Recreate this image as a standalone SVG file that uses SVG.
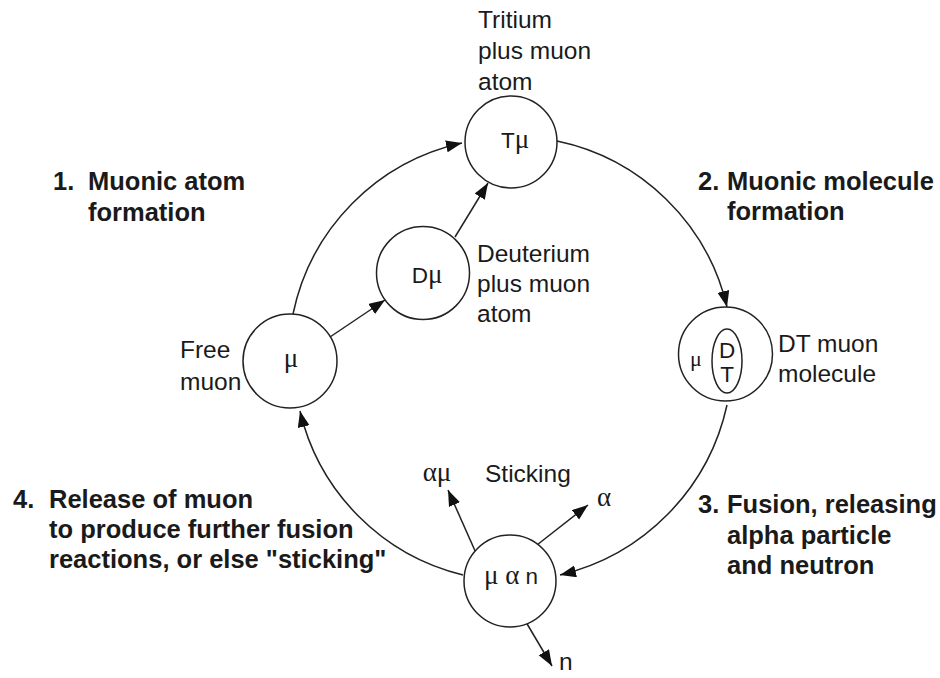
<svg xmlns="http://www.w3.org/2000/svg" width="940" height="678" viewBox="0 0 940 678">
<style>
text{font-family:"Liberation Sans",Arial,sans-serif;fill:#1a1a1a}
.lbl{font-size:24.5px}
.bold{font-size:25.5px;font-weight:bold}
.in{font-size:22.5px}
.gk{font-family:"Liberation Serif","Times New Roman",serif;font-size:27px}
.gks{font-family:"Liberation Serif","Times New Roman",serif;font-size:22px}
.node{fill:#fff;stroke:#222;stroke-width:1.5}
.con{fill:none;stroke:#222;stroke-width:1.5}
</style>
<defs>
<marker id="ah" markerUnits="userSpaceOnUse" markerWidth="17" markerHeight="13" refX="16" refY="6" orient="auto" viewBox="0 0 17 13">
<path d="M0,0 L16,6 L0,12 z" fill="#111"/>
</marker>
</defs>
<rect width="940" height="678" fill="#fff"/>
<g id="connectors">
<path class="con" d="M293,314 A221,221 0 0 1 462,143" marker-end="url(#ah)"/>
<path class="con" d="M557,141 A221,221 0 0 1 727,307" marker-end="url(#ah)"/>
<path class="con" d="M727,405 A224,224 0 0 1 560,575" marker-end="url(#ah)"/>
<path class="con" d="M463,575 A221,221 0 0 1 300,411" marker-end="url(#ah)"/>
<path class="con" d="M330,337 L385,300" marker-end="url(#ah)"/>
<path class="con" d="M455,237 L488,183" marker-end="url(#ah)"/>
<path class="con" d="M480,562 L448,490" marker-end="url(#ah)"/>
<path class="con" d="M528,552 L588,505" marker-end="url(#ah)"/>
<path class="con" d="M523,617 L552,666" marker-end="url(#ah)"/>
</g>
<g id="node-free-muon">
<circle class="node" cx="290" cy="361" r="47"/>
<text class="gk" x="291" y="367" text-anchor="middle">μ</text>
<text class="lbl" x="180" y="358">Free</text>
<text class="lbl" x="180" y="390">muon</text>
</g>
<g id="node-dmu">
<circle class="node" cx="423" cy="273" r="46.5"/>
<text class="in" x="427" y="283" text-anchor="middle">D<tspan class="gk">μ</tspan></text>
<text class="lbl" x="477" y="262">Deuterium</text>
<text class="lbl" x="477" y="292">plus muon</text>
<text class="lbl" x="477" y="322">atom</text>
</g>
<g id="node-tmu">
<circle class="node" cx="511" cy="142" r="46"/>
<text class="in" x="515" y="148" text-anchor="middle">T<tspan class="gk">μ</tspan></text>
<text class="lbl" x="478" y="28">Tritium</text>
<text class="lbl" x="478" y="59">plus muon</text>
<text class="lbl" x="478" y="90">atom</text>
</g>
<g id="node-dt">
<circle class="node" cx="725.5" cy="354" r="47"/>
<ellipse class="node" cx="727" cy="361" rx="15" ry="32"/>
<text class="gks" x="696" y="366" text-anchor="middle">μ</text>
<text class="in" x="727" y="358" text-anchor="middle">D</text>
<text class="in" x="727" y="382" text-anchor="middle">T</text>
<text class="lbl" x="778" y="352">DT muon</text>
<text class="lbl" x="778" y="382">molecule</text>
</g>
<g id="node-fusion">
<circle class="node" cx="510" cy="581" r="46"/>
<text class="in" x="511" y="584" text-anchor="middle"><tspan class="gk">μ α</tspan> n</text>
<text class="gk" x="437" y="481" text-anchor="middle">αμ</text>
<text class="lbl" x="485" y="482">Sticking</text>
<text class="gk" x="597" y="506">α</text>
<text class="lbl" x="559" y="670">n</text>
</g>
<g id="step-labels">
<text class="bold" x="53" y="190">1.</text>
<text class="bold" x="88" y="190">Muonic atom</text>
<text class="bold" x="88" y="221">formation</text>
<text class="bold" x="698" y="190">2.</text>
<text class="bold" x="727" y="190">Muonic molecule</text>
<text class="bold" x="727" y="220">formation</text>
<text class="bold" x="698" y="513">3.</text>
<text class="bold" x="727" y="513">Fusion, releasing</text>
<text class="bold" x="727" y="544">alpha particle</text>
<text class="bold" x="727" y="574">and neutron</text>
<text class="bold" x="13" y="508">4.</text>
<text class="bold" x="49" y="508">Release of muon</text>
<text class="bold" x="49" y="538">to produce further fusion</text>
<text class="bold" x="49" y="568">reactions, or else "sticking"</text>
</g>
</svg>
